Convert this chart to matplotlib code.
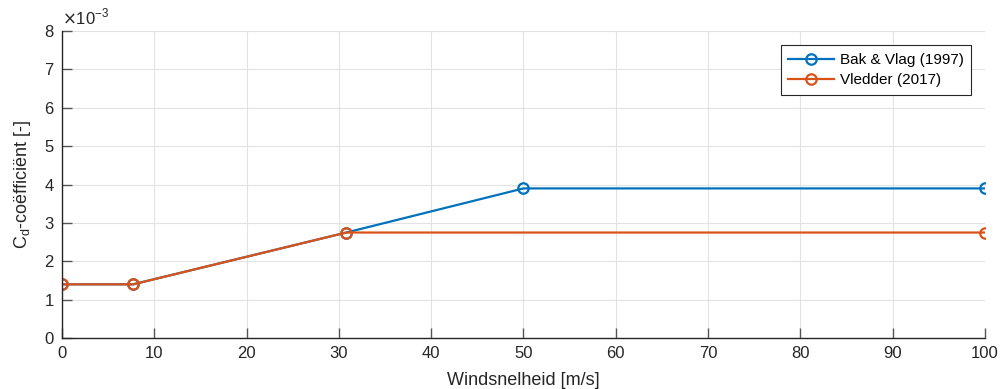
import matplotlib.pyplot as plt

plt.rcParams['font.family'] = ['Liberation Sans', 'DejaVu Sans']

# wind speed [m/s] and drag coefficient [-]
u_bak = [0, 7.7, 30.8, 50, 100]
cd_bak = [1.4e-3, 1.4e-3, 2.75e-3, 3.9e-3, 3.9e-3]
u_vledder = [0, 7.7, 30.8, 100]
cd_vledder = [1.4e-3, 1.4e-3, 2.75e-3, 2.75e-3]
labels = ["Bak & Vlag (1997)", "Vledder (2017)"]

SCALE = 1e-3
AX_COL = "#262626"

fig = plt.figure(figsize=(10.04, 3.89), dpi=100)
ax = fig.add_axes([0.0618, 0.131, 0.9192, 0.789])

ax.plot(u_bak, [c / SCALE for c in cd_bak], "-o", color="#0072BD", lw=1.6,
        ms=7.5, mfc="none", mew=1.6, label=labels[0])
ax.plot(u_vledder, [c / SCALE for c in cd_vledder], "-o", color="#D95319", lw=1.6,
        ms=7.5, mfc="none", mew=1.6, label=labels[1])

ax.set_xlim(0, 100)
ax.set_ylim(0, 8)
ax.set_xticks(range(0, 101, 10))
ax.set_yticks(range(0, 9))
ax.grid(True, color="#e3e3e3", lw=0.8)
ax.set_axisbelow(True)
for s in ["top", "right"]:
    ax.spines[s].set_visible(False)
for s in ["left", "bottom"]:
    ax.spines[s].set_color(AX_COL)
    ax.spines[s].set_linewidth(1.0)
ax.tick_params(direction="in", length=7, width=1.0, color="#555555",
               labelcolor=AX_COL, labelsize=12, pad=6)

ax.text(0.0, 1.012, r"$\times$10$^{\mathregular{-3}}$", transform=ax.transAxes,
        fontsize=12, color=AX_COL, ha="left", va="bottom")

ax.set_xlabel("Windsnelheid [m/s]", fontsize=13, color=AX_COL, labelpad=8)
ax.set_ylabel(r"C$_\mathregular{d}$-coëfficiënt [-]", fontsize=13, color=AX_COL, labelpad=8)

leg = ax.legend(loc="upper right", bbox_to_anchor=(0.985, 0.954), borderaxespad=0,
                fontsize=11, fancybox=False, framealpha=1, edgecolor=AX_COL,
                handlelength=3.0, handletextpad=0.35, borderpad=0.5,
                labelspacing=0.4)
leg.get_frame().set_linewidth(0.8)

fig.savefig("out.png", dpi=100)
